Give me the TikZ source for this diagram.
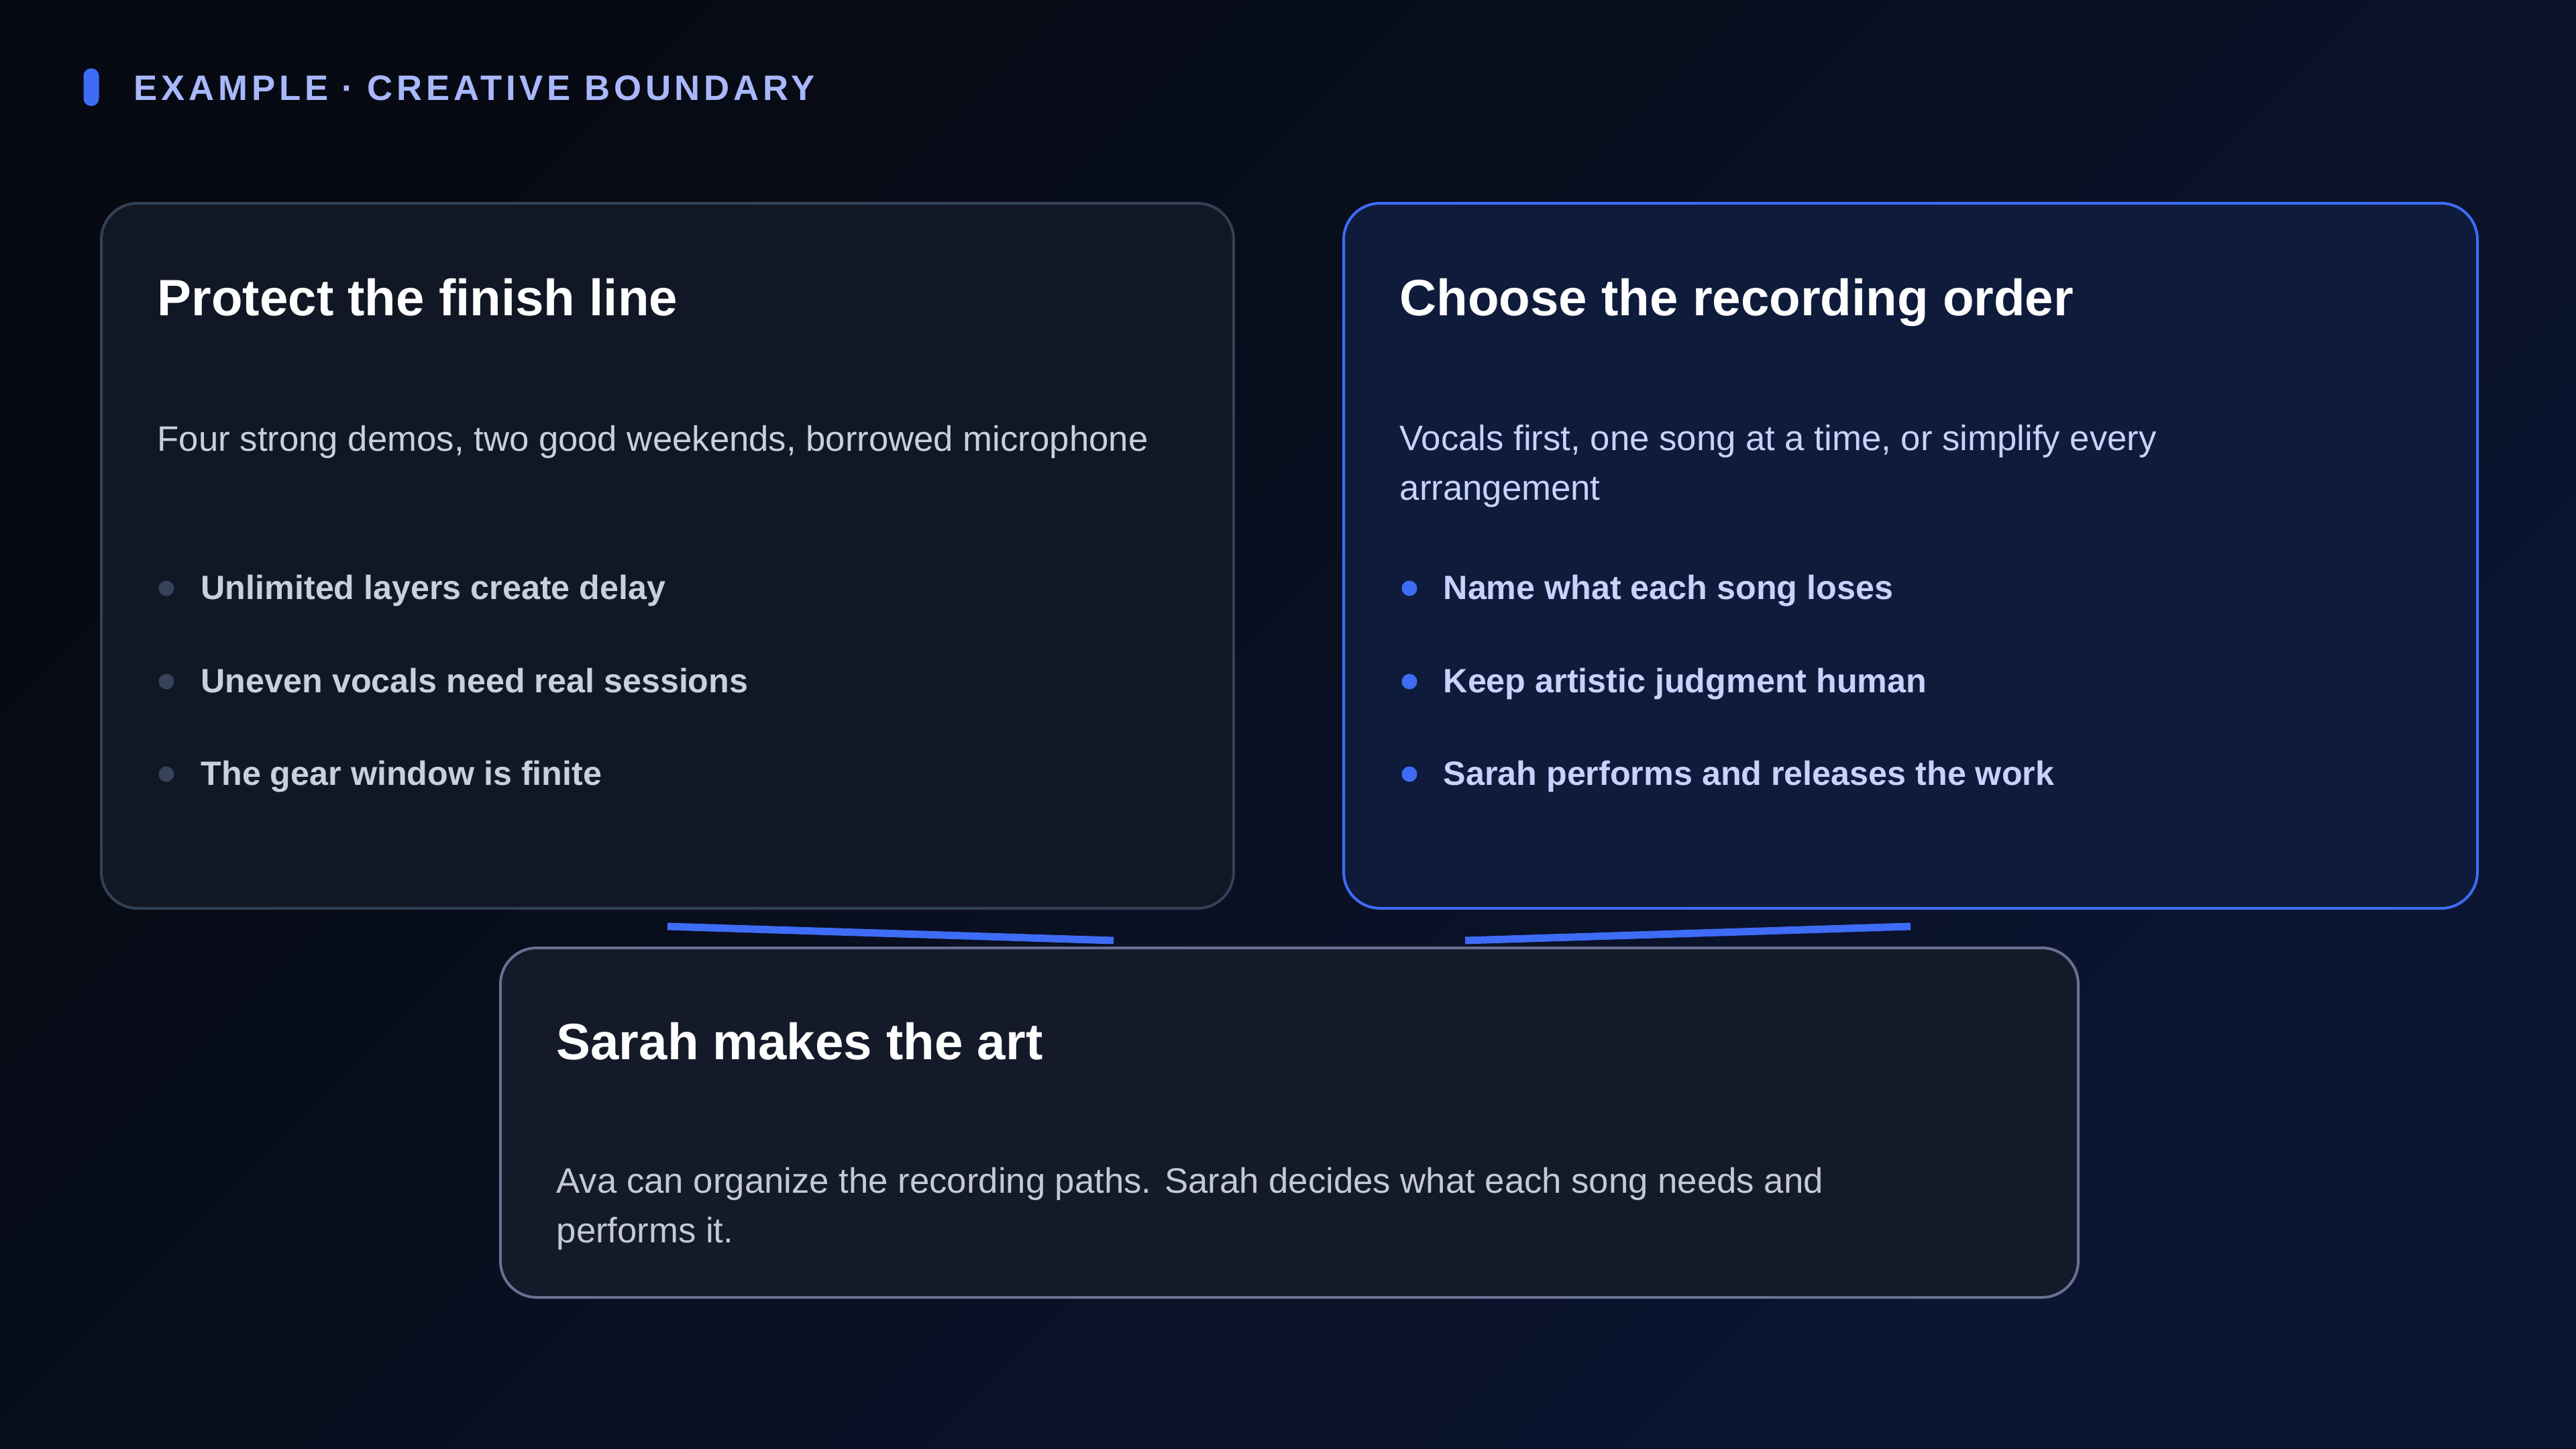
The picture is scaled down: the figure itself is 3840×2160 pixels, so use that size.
\documentclass[tikz,border=0pt]{standalone}
\usepackage{fontspec}
\setmainfont{Liberation Sans}
\newfontfamily\capsfont[LetterSpace=11]{Liberation Sans}
\definecolor{bgtop}{HTML}{070A12}
\definecolor{bgbot}{HTML}{0C1633}
\definecolor{pillblue}{HTML}{3F6CF7}
\definecolor{hdrtext}{HTML}{A9B8FB}
\definecolor{fillA}{HTML}{121725}
\definecolor{lineA}{HTML}{334155}
\definecolor{fillB}{HTML}{0E1B3B}
\definecolor{lineB}{HTML}{3E6CF6}
\definecolor{fillC}{HTML}{151A2B}
\definecolor{lineC}{HTML}{6A7090}
\definecolor{textA}{HTML}{C8D0DC}
\definecolor{dotA}{HTML}{36435A}
\definecolor{textB}{HTML}{C7D2FE}
\definecolor{textC}{HTML}{C4C9D6}
\definecolor{linkblue}{HTML}{3E6CF6}
\begin{document}
\begin{tikzpicture}
        [x=0.1mm, y=-0.1mm,
        card/.style={rounded corners=5.4mm, line width=0.4mm, anchor=north west, inner sep=0pt},
        ttl/.style={anchor=base west, inner sep=0pt, text=white, font=\bfseries\fontsize{21.7}{26}\selectfont},
        sub/.style={anchor=base west, inner sep=0pt, align=left, font=\fontsize{15}{20.8}\selectfont},
        item/.style={anchor=base west, inner sep=0pt, font=\bfseries\fontsize{14.3}{17}\selectfont},
        dot/.style={circle, inner sep=0pt, minimum size=2.3mm},
        link/.style={draw=linkblue, line width=1.1mm}]
        \shade[top color=bgtop, bottom color=bgbot, shading angle=45] (0,0) rectangle (3840,2160);
        % header
        \node (pill) at (136,130) [rounded corners=1.1mm, fill=pillblue, minimum width=2.3mm, minimum height=5.6mm, inner sep=0pt] {};
        \node (hdr) at (199,149) [anchor=base west, inner sep=0pt, text=hdrtext, font=\capsfont\bfseries\fontsize{15}{18}\selectfont] {EXAMPLE · CREATIVE BOUNDARY};
        % cards
        \node (finish) at (149,301) [card, draw=lineA, fill=fillA, minimum width=168.8mm, minimum height=105.1mm] {};
        \node (order) at (2001,301) [card, draw=lineB, fill=fillB, minimum width=169mm, minimum height=105.1mm] {};
        \node (art) at (744,1411) [card, draw=lineC, fill=fillC, minimum width=235.2mm, minimum height=52.1mm] {};
        % links
        \draw[link] ([yshift=-2.5mm]finish.south) -- ([xshift=-26.2mm,yshift=0.9mm]art.north);
        \draw[link] ([yshift=-2.5mm]order.south) -- ([xshift=26.2mm,yshift=0.9mm]art.north);
        % left card
        \node (finishT) at (234,470) [ttl] {Protect the finish line};
        \node (finishS) at (234,672) [sub, text=textA] {Four strong demos, two good weekends, borrowed microphone};
        \node (finishD1) at (248,877) [dot, fill=dotA] {};
        \node (finishD2) at (248,1016) [dot, fill=dotA] {};
        \node (finishD3) at (248,1154) [dot, fill=dotA] {};
        \node (finishI1) at (299,893) [item, text=textA] {Unlimited layers create delay};
        \node (finishI2) at (299,1032) [item, text=textA] {Uneven vocals need real sessions};
        \node (finishI3) at (299,1170) [item, text=textA] {The gear window is finite};
        % right card
        \node (orderT) at (2086,470) [ttl] {Choose the recording order};
        \node (orderS) at (2086,745) [sub, text=textB] {Vocals first, one song at a time, or simplify every\\arrangement};
        \node (orderD1) at (2101,877) [dot, fill=lineB] {};
        \node (orderD2) at (2101,1016) [dot, fill=lineB] {};
        \node (orderD3) at (2101,1154) [dot, fill=lineB] {};
        \node (orderI1) at (2151,893) [item, text=textB] {Name what each song loses};
        \node (orderI2) at (2151,1032) [item, text=textB] {Keep artistic judgment human};
        \node (orderI3) at (2151,1170) [item, text=textB] {Sarah performs and releases the work};
        % bottom card
        \node (artT) at (829,1579) [ttl] {Sarah makes the art};
        \node (artS) at (829,1852) [sub, text=textC] {Ava can organize the recording paths. Sarah decides what each song needs and\\performs it.};
\end{tikzpicture}
\end{document}
